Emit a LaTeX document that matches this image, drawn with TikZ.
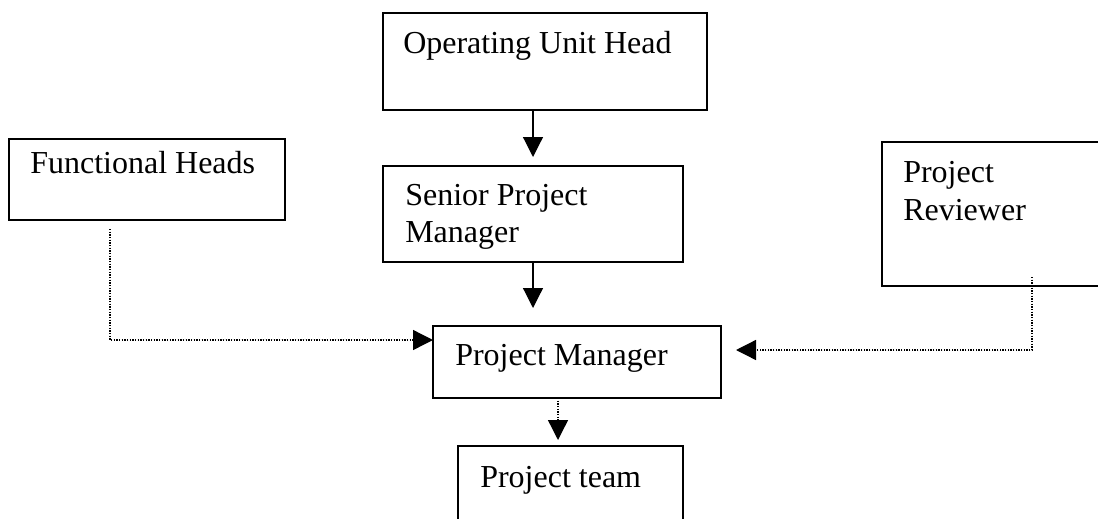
\documentclass[tikz,border=0pt]{standalone}
\usepackage{fontspec}
\setmainfont{Liberation Serif}
\usetikzlibrary{arrows.meta}
\begin{document}
\begin{tikzpicture}[x=0.75pt,y=-0.75pt,
  box/.style={draw, line width=0.9pt, inner sep=0pt, outer sep=0pt},
  txt/.style={anchor=base west, inner sep=0pt, font=\fontsize{24}{28}\selectfont},
  solidarrow/.style={line width=0.9pt, -{Triangle[length=15pt,width=15pt]}},
  dotarrow/.style={line width=1pt, dash pattern=on 1pt off 1pt,
    -{Triangle[length=15pt,width=15pt]}}]
\useasboundingbox (0,0) rectangle (1098,518);
\clip (0,0) rectangle (1098,518);

% boxes
\node[box, minimum width=243pt, minimum height=72.75pt] (ouh) at (545,61.5) {};
\node[box, minimum width=225pt, minimum height=72pt] (spm) at (533,214) {};
\node[box, minimum width=207pt, minimum height=60.75pt] (fh) at (147,179.5) {};
\node[box, minimum width=171pt, minimum height=108pt] (pr) at (996,214) {};
\node[box, minimum width=216pt, minimum height=54pt] (pm) at (577,362) {};
\node[box, minimum width=168.75pt, minimum height=70.5pt] (pt) at (570.5,493) {};

% labels
\node[txt] (ouhtxt) at (403,53) {Operating Unit Head};
\node[txt] (spmtxt1) at (405,205) {Senior Project};
\node[txt] (spmtxt2) at (405,242) {Manager};
\node[txt] (fhtxt) at (30,173) {Functional Heads};
\node[txt] (prtxt1) at (903,182) {Project};
\node[txt] (prtxt2) at (903,220) {Reviewer};
\node[txt] (pmtxt) at (455,365) {Project Manager};
\node[txt] (pttxt) at (480,487) {Project team};

% line of authority
\draw[solidarrow, shorten >=6.75pt] (ouh.south -| spm) -- (spm.north);
\draw[solidarrow, shorten >=13.5pt] (spm.south) -- (pm.north -| spm);

% dotted reporting lines
\coordinate (fhturn) at (110,340);
\draw[dotarrow, shorten <=6.75pt] (fh.south -| fhturn) -- (fhturn) -- (pm.west |- fhturn);
\coordinate (prturn) at (1032,350);
\draw[dotarrow, shorten <=-6.75pt, shorten >=11.25pt] (pr.south -| prturn) -- (prturn) -- (pm.east |- prturn);
\coordinate (pmdown) at (558,398);
\draw[dotarrow, shorten >=4.5pt] (pm.south -| pmdown) -- (pt.north -| pmdown);
\end{tikzpicture}
\end{document}
